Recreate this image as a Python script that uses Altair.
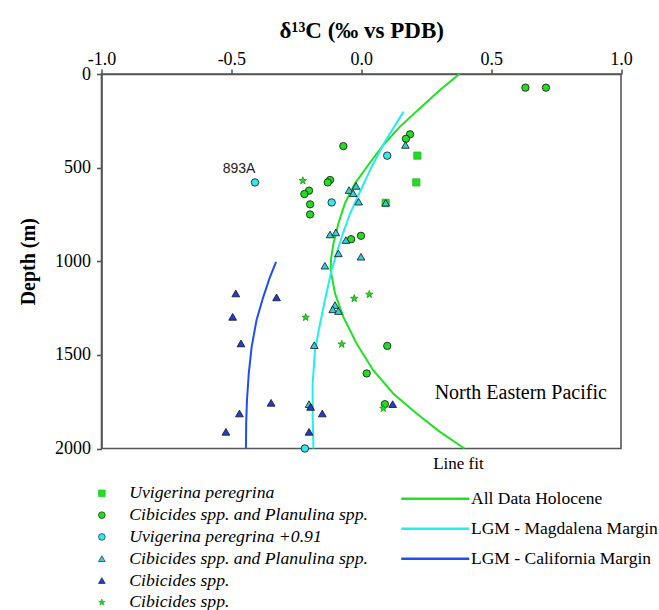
import altair as alt
import pandas as pd

# ---------------- data ----------------
series_keys = ["uvi_hol", "cib_hol", "uvi_lgm", "cibpla_lgm", "cib_cal", "cib_star"]
series_labels = ["Uvigerina peregrina", "Cibicides spp. and Planulina spp.",
                 "Uvigerina peregrina +0.91", "Cibicides spp. and Planulina spp.",
                 "Cibicides spp.", "Cibicides spp."]

# green squares: Uvigerina peregrina (Holocene)
uvi_hol_x = [0.216, 0.212, 0.094]
uvi_hol_d = [436, 579, 688]
# green circles: Cibicides & Planulina (Holocene)
cib_hol_x = [0.632, 0.711, 0.188, 0.172, -0.069, -0.120, -0.129, -0.201, -0.219,
             -0.197, -0.197, -0.039, -0.001, 0.100, 0.021, 0.091]
cib_hol_d = [73, 73, 322, 346, 385, 566, 579, 623, 641, 696, 750, 882, 864, 1452, 1599, 1763]
# cyan circles: Uvigerina peregrina +0.91 (LGM)
uvi_lgm_x = [0.100, -0.114, -0.409, -0.217]
uvi_lgm_d = [436, 686, 579, 2000]
# cyan triangles: Cibicides & Planulina (LGM)
cibpla_lgm_x = [0.170, -0.047, -0.020, -0.031, -0.010, 0.094, -0.120, -0.098, -0.059,
                -0.088, -0.001, -0.140, -0.101, -0.110, -0.088, -0.181, -0.201]
cibpla_lgm_d = [379, 620, 598, 637, 682, 688, 857, 846, 887, 958, 976, 1024, 1234,
                1257, 1266, 1448, 1763]
# blue triangles: Cibicides spp. (LGM)
cib_cal_x = [-0.483, -0.326, -0.495, -0.463, -0.347, -0.469, -0.521, -0.201, -0.150, -0.195, 0.121]
cib_cal_d = [1172, 1193, 1297, 1439, 1756, 1813, 1911, 1911, 1813, 1778, 1763]
# green stars: Cibicides spp.
cib_star_x = [-0.225, -0.027, 0.031, -0.214, -0.075, 0.085]
cib_star_d = [570, 1199, 1177, 1300, 1443, 1786]

# fitted lines
fit_names = ["All Data Holocene", "LGM - Magdalena Margin", "LGM - California Margin"]
hol_d = [0, 85, 183, 281, 379, 486, 584, 691, 798, 905, 985, 1047, 1172, 1297, 1439,
         1582, 1706, 1813, 1911, 2000]
hol_x = [0.378, 0.303, 0.226, 0.149, 0.085, 0.027, -0.024, -0.063, -0.088, -0.107,
         -0.116, -0.118, -0.101, -0.069, -0.018, 0.046, 0.123, 0.213, 0.303, 0.397]
mag_d = [201, 362, 495, 629, 745, 869, 985, 1047, 1208, 1350, 1475, 1653, 1831, 2000]
mag_x = [0.163, 0.091, 0.040, -0.005, -0.043, -0.075, -0.101, -0.114, -0.140, -0.161,
         -0.178, -0.187, -0.187, -0.184]
cal_d = [1003, 1083, 1190, 1314, 1457, 1599, 1742, 1866, 2000]
cal_x = [-0.328, -0.351, -0.377, -0.403, -0.422, -0.433, -0.440, -0.443, -0.444]

x_ticks = [-1.0, -0.5, 0.0, 0.5, 1.0]
y_ticks = [0, 500, 1000, 1500, 2000]

# ---------------- styling ----------------
STAR = ("M0,-1L0.2245,-0.309L0.951,-0.309L0.363,0.118L0.588,0.809L0,0.382"
        "L-0.588,0.809L-0.363,0.118L-0.951,-0.309L-0.2245,-0.309Z")
fills = ["#22dd22", "#22dd22", "#33e6f0", "#33cfe0", "#1f3fd0", "#22dd22"]
shapes = ["square", "circle", "circle", "triangle-up", "triangle-up", STAR]
sizes = [52, 62, 92, 85, 85, 115]
strokes = ["#22bb22", "#111111", "#111111", "#111111", "#111111", "#119911"]
line_colors = ["#22e022", "#22eeee", "#1f4ff0"]
SERIF = "Liberation Serif"

# ---------------- tables ----------------
pts = []
for key, xs, ds in [("uvi_hol", uvi_hol_x, uvi_hol_d), ("cib_hol", cib_hol_x, cib_hol_d),
                    ("uvi_lgm", uvi_lgm_x, uvi_lgm_d), ("cibpla_lgm", cibpla_lgm_x, cibpla_lgm_d),
                    ("cib_cal", cib_cal_x, cib_cal_d), ("cib_star", cib_star_x, cib_star_d)]:
    for xv, dv in zip(xs, ds):
        pts.append({"series": key, "x": xv, "d": dv})
pts = pd.DataFrame(pts)
pts["o"] = range(len(pts))

lines = []
for name, xs, ds in zip(fit_names, [hol_x, mag_x, cal_x], [hol_d, mag_d, cal_d]):
    for xv, dv in zip(xs, ds):
        lines.append({"fit": name, "x": xv, "d": dv})
lines = pd.DataFrame(lines)

label_expr = " : ".join(
    f"datum.value == '{k}' ? '{l}'" for k, l in zip(series_keys, series_labels)) + " : ''"

X = alt.X("x:Q", scale=alt.Scale(domain=[-1, 1], nice=False, zero=False),
          axis=alt.Axis(orient="top", values=x_ticks, grid=False, tickSize=5,
                        labelExpr="(datum.value < 0 ? '-' : '') + format(abs(datum.value), '.1f')",
                        labelFlush=False, labelOverlap=False,
                        labelPadding=1, labelFontSize=18, labelFont=SERIF,
                        title="δ¹³C (‰ vs PDB)", titleFont=SERIF, titleFontSize=23,
                        titleFontWeight="bold", titlePadding=8))
Y = alt.Y("d:Q", scale=alt.Scale(domain=[0, 2000], reverse=True, nice=False, zero=False),
          axis=alt.Axis(values=y_ticks, grid=False, tickSize=5, labelPadding=6,
                        format="d", labelFlush=False, labelOverlap=False,
                        labelFontSize=18, labelFont=SERIF, title="Depth (m)",
                        titleFont=SERIF, titleFontSize=20, titleFontWeight="bold",
                        titlePadding=16))

pt_legend = alt.Legend(orient="none", legendX=-8.5, legendY=410.5, title=None,
                       labelExpr=label_expr, labelFont=SERIF, labelFontStyle="italic",
                       labelFontSize=17.7, labelLimit=400, labelColor="black",
                       symbolSize=45, symbolStrokeColor="black", symbolStrokeWidth=0.6,
                       rowPadding=2.8, labelOffset=18.5, padding=0)

line_layer = alt.Chart(lines).mark_line(strokeWidth=2).encode(
    x=X, y=Y, order="d:Q",
    color=alt.Color("fit:N", scale=alt.Scale(domain=fit_names, range=line_colors),
                    legend=alt.Legend(orient="none", legendX=295, legendY=416, title=None,
                                      symbolType="M-1,0H16", symbolSize=64,
                                      symbolStrokeWidth=2.5, labelOffset=57,
                                      labelFont=SERIF, labelFontSize=17.5, labelLimit=400,
                                      labelColor="black", rowPadding=11, padding=0)))

point_layer = alt.Chart(pts).mark_point(filled=True, opacity=1, strokeWidth=0.8).encode(
    x=X, y=Y, order="o:Q",
    fill=alt.Fill("series:N", scale=alt.Scale(domain=series_keys, range=fills), legend=pt_legend),
    shape=alt.Shape("series:N", scale=alt.Scale(domain=series_keys, range=shapes), legend=pt_legend),
    size=alt.Size("series:N", scale=alt.Scale(domain=series_keys, range=sizes), legend=None),
    stroke=alt.Stroke("series:N", scale=alt.Scale(domain=series_keys, range=strokes), legend=None),
)

ann_site = pd.DataFrame({"x": [-0.409], "d": [579], "t": ["893A"]})
site_layer = alt.Chart(ann_site).mark_text(font="Liberation Sans", fontSize=14, color="#222",
                                           dx=-16, dy=-13).encode(x=X, y=Y, text="t:N")

ann_text = pd.DataFrame({"x": [0.614, 0.374], "d": [1706, 2085],
                         "t": ["North Eastern Pacific", "Line fit"], "fs": [20, 17]})
text_layer = alt.Chart(ann_text).mark_text(font=SERIF, color="black").encode(
    x=X, y=Y, text="t:N", size=alt.Size("fs:Q", scale=None))

chart = alt.layer(line_layer, point_layer, site_layer, text_layer).resolve_scale(
    size="independent"
).properties(
    width=519.5, height=374.5,
    autosize=alt.AutoSizeParams(type="none"),
    padding={"left": 101.5, "top": 74, "right": 38, "bottom": 161.5},
    background="white",
).configure_view(stroke="#555", strokeWidth=1.6).configure_axis(
    domainColor="#555", tickColor="#555", domainWidth=1.6, tickWidth=1.6,
    labelColor="black", titleColor="black", labelFont=SERIF, titleFont=SERIF
)

chart.save("out.html", embed_options={"renderer": "svg", "actions": False})
